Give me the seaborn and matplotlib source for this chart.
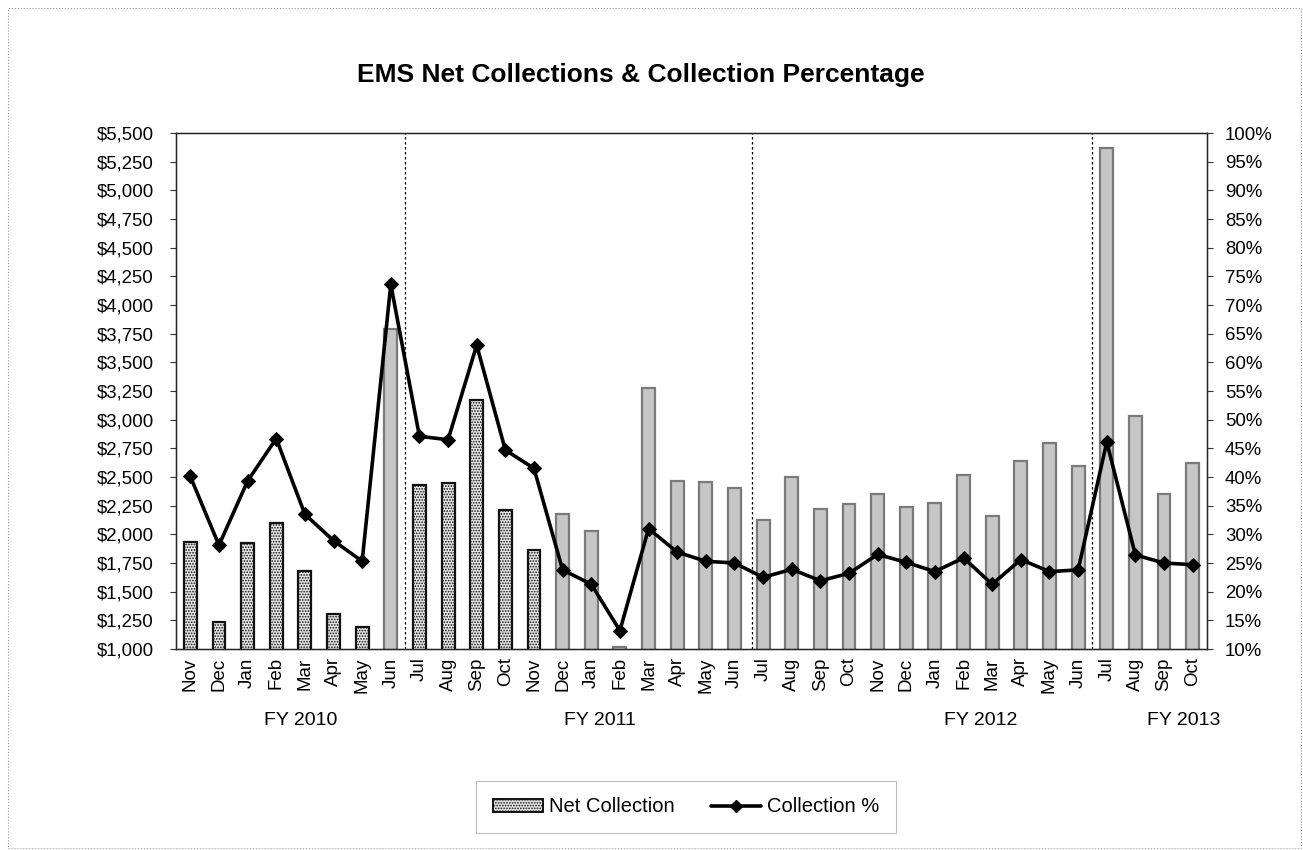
import numpy as np
import pandas as pd
import matplotlib
matplotlib.use("Agg")
import matplotlib.pyplot as plt
import matplotlib.ticker as mticker
from matplotlib.patches import Patch, Rectangle
from matplotlib.lines import Line2D
import seaborn as sns

months = ["Nov", "Dec", "Jan", "Feb", "Mar", "Apr", "May", "Jun",
          "Jul", "Aug", "Sep", "Oct", "Nov", "Dec", "Jan", "Feb", "Mar", "Apr", "May", "Jun",
          "Jul", "Aug", "Sep", "Oct", "Nov", "Dec", "Jan", "Feb", "Mar", "Apr", "May", "Jun",
          "Jul", "Aug", "Sep", "Oct"]
net_collection = [1936, 1239, 1927, 2097, 1682, 1309, 1188, 3794,
                  2427, 2452, 3173, 2212, 1861, 2173, 2027, 1020, 3279, 2467, 2455, 2400,
                  2127, 2500, 2218, 2264, 2355, 2236, 2270, 2521, 2158, 2636, 2797, 2600,
                  5370, 3035, 2350, 2625]
collection_pct = [40.1, 28.1, 39.3, 46.7, 33.5, 28.9, 25.3, 73.6,
                  47.1, 46.5, 63.0, 44.7, 41.5, 23.8, 21.3, 13.2, 31.0, 26.9, 25.3, 25.0,
                  22.5, 23.9, 21.9, 23.2, 26.5, 25.1, 23.5, 25.9, 21.3, 25.6, 23.5, 23.8,
                  46.1, 26.4, 25.0, 24.7]
bar_style = ["stipple"] * 7 + ["gray"] + ["stipple"] * 5 + ["gray"] * 23
fiscal_years = ["FY 2010", "FY 2011", "FY 2012", "FY 2013"]
fy_label_pos = [3.85, 14.3, 27.6, 34.7]
fy_boundaries = [7.5, 19.6, 31.5]

sns.set_style("white")
plt.rcParams["font.family"] = ["Liberation Sans", "DejaVu Sans"]
plt.rcParams["hatch.linewidth"] = 0.8
plt.rcParams["text.color"] = "black"
plt.rcParams["xtick.color"] = "black"
plt.rcParams["ytick.color"] = "black"
plt.rcParams["xtick.labelcolor"] = "black"
plt.rcParams["ytick.labelcolor"] = "black"

df = pd.DataFrame({"pos": np.arange(len(months)), "net": net_collection,
                   "pct": collection_pct, "style": bar_style})

fig = plt.figure(figsize=(13.03, 8.5), dpi=100)
ax = fig.add_axes([176 / 1303, 1 - 649 / 850, (1207 - 176) / 1303, (649 - 133) / 850])

sns.barplot(data=df, x="pos", y="net", ax=ax, color="#c8c8c8", width=0.45,
            saturation=1, errorbar=None)
for patch, st in zip(ax.patches, bar_style):
    if st == "stipple":
        patch.set_facecolor("#e4e4e4")
        patch.set_edgecolor("#111111")
        patch.set_hatch("......")
        patch.set_linewidth(1.6)
    else:
        patch.set_facecolor("#c6c6c6")
        patch.set_edgecolor("#7a7a7a")
        patch.set_linewidth(1.6)

ax.set_ylim(1000, 5500)
ax.set_xlim(-0.5, len(months) - 0.5)
ax.yaxis.set_major_locator(mticker.MultipleLocator(250))
ax.yaxis.set_major_formatter(mticker.FuncFormatter(lambda v, p: f"${v:,.0f}"))
ax.set_xticks(np.arange(len(months)))
ax.set_xticklabels(months, rotation=90, fontsize=13.5)
ax.tick_params(axis="y", labelsize=13.4, length=4, direction="out", left=True,
               color="#333333", pad=12)
ax.tick_params(axis="x", length=0, pad=6)
ax.set_xlabel("")
ax.set_ylabel("")

for b in fy_boundaries:
    ax.axvline(b, color="black", lw=0.9, ls=(0, (2, 2)), zorder=1)

for spine in ax.spines.values():
    spine.set_color("black")
    spine.set_linewidth(1.0)

ax2 = ax.twinx()
sns.lineplot(data=df, x="pos", y="pct", ax=ax2, color="black", lw=2.6,
             marker="D", markersize=7, markeredgecolor="black")
ax2.set_ylim(10, 100)
ax2.yaxis.set_major_locator(mticker.MultipleLocator(5))
ax2.yaxis.set_major_formatter(mticker.FuncFormatter(lambda v, p: f"{v:.0f}%"))
ax2.tick_params(axis="y", labelsize=13.4, length=4, direction="out", right=True,
                color="#333333", pad=9)
ax2.set_ylabel("")
ax2.set_xlabel("")
ax2.set_xlim(-0.5, len(months) - 0.5)
if ax2.get_legend():
    ax2.get_legend().remove()

tr = ax.get_xaxis_transform()
for fy, xp in zip(fiscal_years, fy_label_pos):
    ax.text(xp, -0.138, fy, transform=tr, ha="center", va="center", fontsize=14)

fig.text(0.492, 1 - 75 / 850, "EMS Net Collections & Collection Percentage",
         ha="center", va="center", fontsize=19, fontweight="bold", color="black")

bar_handle = Patch(facecolor="#e4e4e4", edgecolor="#111111", hatch="......", lw=1.4)
line_handle = Line2D([], [], color="black", lw=2.6, marker="D", markersize=6)
leg = fig.legend([bar_handle, line_handle], ["Net Collection", "Collection %"],
                 loc="center", bbox_to_anchor=(686 / 1303, 1 - 807 / 850), ncol=2,
                 frameon=True, fancybox=False, fontsize=14.5, handlelength=2.5,
                 handleheight=0.6, handletextpad=0.3, columnspacing=1.8,
                 borderpad=0.8, edgecolor="#aaaaaa")
leg.get_frame().set_linewidth(0.8)
for t in leg.get_texts():
    t.set_color("black")

fig.add_artist(Rectangle((8 / 1303, 0.002), 1 - 10 / 1303, 1 - 8 / 850 - 0.002,
                         transform=fig.transFigure, fill=False, ec="#999999",
                         lw=0.8, ls=":"))

fig.savefig("out.png", dpi=100)
